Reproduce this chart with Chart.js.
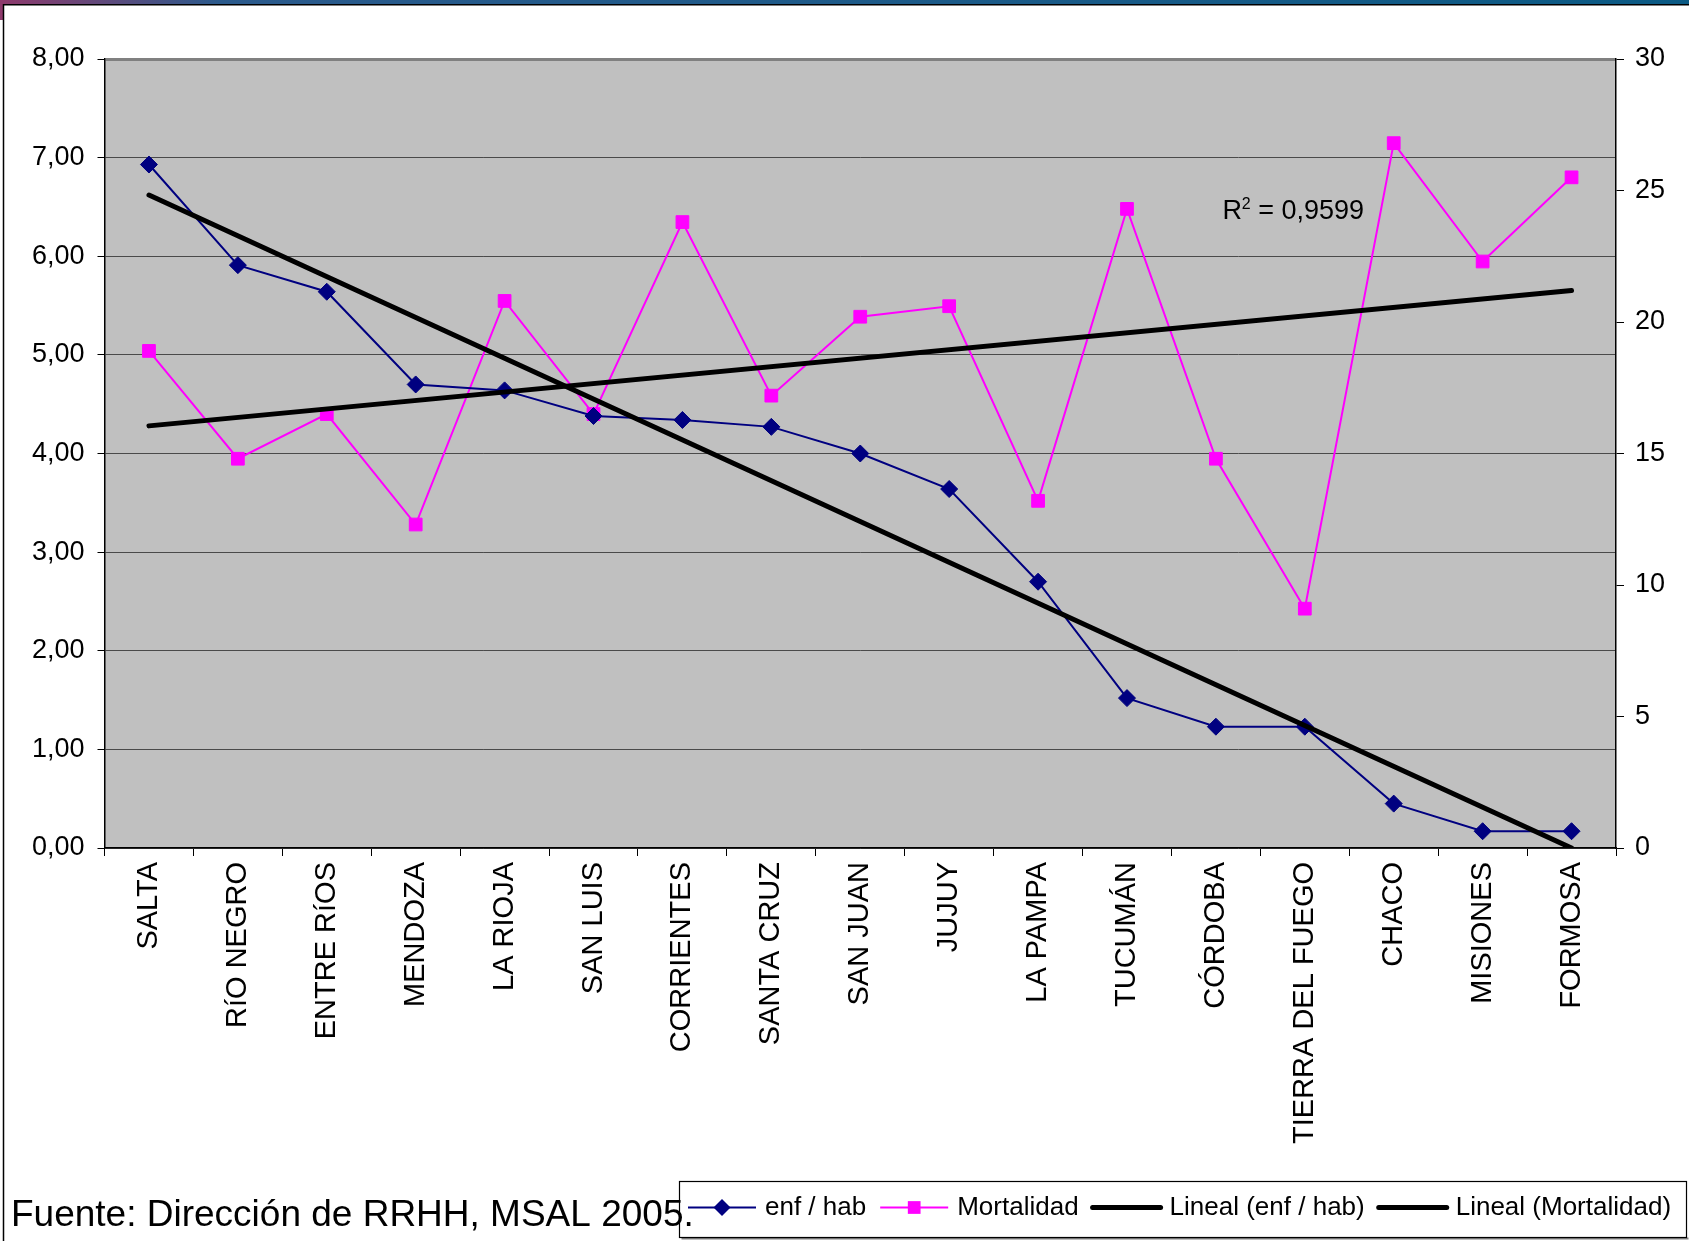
<!DOCTYPE html>
<html>
<head>
<meta charset="utf-8">
<title>Enfermeras por habitante y mortalidad</title>
<script src="https://cdn.jsdelivr.net/npm/chart.js@4.4.1/dist/chart.umd.min.js"></script>
<style>
  html, body { margin: 0; padding: 0; background: #fff; }
  canvas { display: block; }
</style>
</head>
<body>
<canvas id="grafico" width="1689" height="1241"></canvas>
<script>
// Provincias, ordenadas por enfermeras por habitante
const provincias = ['SALTA', 'RíO NEGRO', 'ENTRE RíOS', 'MENDOZA', 'LA RIOJA', 'SAN LUIS',
  'CORRIENTES', 'SANTA CRUZ', 'SAN JUAN', 'JUJUY', 'LA PAMPA', 'TUCUMÁN', 'CÓRDOBA',
  'TIERRA DEL FUEGO', 'CHACO', 'MISIONES', 'FORMOSA'];

// Eje izquierdo
const enfPorHab = [6.93, 5.91, 5.64, 4.70, 4.64, 4.38, 4.34, 4.27, 4.00, 3.64, 2.70,
  1.52, 1.23, 1.23, 0.45, 0.17, 0.17];

// Eje derecho
const mortalidad = [18.9, 14.8, 16.5, 12.3, 20.8, 16.5, 23.8, 17.2, 20.2, 20.6, 13.2,
  24.3, 14.8, 9.1, 26.8, 22.3, 25.5];

// Lineas de tendencia (solo extremos, el resto se une con spanGaps)
const tendEnf = [6.62, null, null, null, null, null, null, null, null, null, null,
  null, null, null, null, null, 0.0];
const tendMort = [16.05, null, null, null, null, null, null, null, null, null, null,
  null, null, null, null, null, 21.2];

const ticksIzq = [0, 1, 2, 3, 4, 5, 6, 7, 8];
const ticksDer = [0, 5, 10, 15, 20, 25, 30];

const r2Texto = ' = 0,9599';
const fuente = 'Fuente: Dirección de RRHH, MSAL 2005.';

const FAMILIA = "'Liberation Sans', Arial, sans-serif";
Chart.defaults.font.family = FAMILIA;
Chart.defaults.color = '#000';

function rombo(ctx, x, y, r) {
  ctx.beginPath();
  ctx.moveTo(x, y - r);
  ctx.lineTo(x + r, y);
  ctx.lineTo(x, y + r);
  ctx.lineTo(x - r, y);
  ctx.closePath();
  ctx.fill();
}

function cuadrado(ctx, x, y, r) {
  const s = r * Math.SQRT1_2;
  ctx.fillRect(x - s, y - s, 2 * s, 2 * s);
}

const marco = {
  id: 'marco',
  beforeDraw(chart) {
    const { ctx, chartArea: a } = chart;
    ctx.save();
    ctx.fillStyle = '#fff';
    ctx.fillRect(0, 0, chart.width, chart.height);
    ctx.fillStyle = '#c0c0c0';
    ctx.fillRect(a.left, a.top, a.right - a.left, a.bottom - a.top);
    ctx.restore();
  },
  afterDraw(chart) {
    const { ctx } = chart;
    const x = chart.scales.x, y1 = chart.scales.y1;
    ctx.save();

    // barra superior y borde del marco
    const grad = ctx.createLinearGradient(0, 0, chart.width, 0);
    grad.addColorStop(0, '#8e3a6c');
    grad.addColorStop(0.13, '#2b5a8c');
    grad.addColorStop(1, '#0b5a84');
    ctx.fillStyle = grad;
    ctx.fillRect(0, 0, chart.width, 4);
    ctx.fillStyle = '#8e3a6c';
    ctx.fillRect(0, 0, 3, 20);
    ctx.strokeStyle = '#000';
    ctx.lineWidth = 1.5;
    ctx.beginPath();
    ctx.moveTo(3.5, chart.height);
    ctx.lineTo(3.5, 4.75);
    ctx.lineTo(chart.width, 4.75);
    ctx.stroke();

    // R²
    ctx.fillStyle = '#000';
    ctx.textBaseline = 'alphabetic';
    ctx.font = '27px ' + FAMILIA;
    const wR = ctx.measureText('R').width;
    const wResto = ctx.measureText(r2Texto).width;
    ctx.font = '16px ' + FAMILIA;
    const w2 = ctx.measureText('2').width;
    const cx = x.getPixelForValue(12.87);
    const base = y1.getPixelForValue(24.3) + 10;
    const x0 = cx - (wR + w2 + wResto) / 2;
    ctx.font = '27px ' + FAMILIA;
    ctx.fillText('R', x0, base);
    ctx.fillText(r2Texto, x0 + wR + w2, base);
    ctx.font = '16px ' + FAMILIA;
    ctx.fillText('2', x0 + wR, base - 10);

    // leyenda
    const caja = { x: 679.5, y: 1181.5, w: 1007, h: 56 };
    ctx.fillStyle = '#fff';
    ctx.fillRect(caja.x, caja.y, caja.w, caja.h);
    ctx.fillStyle = '#808080';
    ctx.fillRect(caja.x + 2, caja.y + caja.h, caja.w, 2);
    ctx.strokeStyle = '#000';
    ctx.lineWidth = 1.2;
    ctx.strokeRect(caja.x, caja.y, caja.w, caja.h);

    ctx.font = '26px ' + FAMILIA;
    ctx.textBaseline = 'middle';
    let lx = 688;
    const my = caja.y + 26;
    chart.data.datasets.forEach(ds => {
      ctx.strokeStyle = ds.borderColor;
      ctx.lineWidth = ds.borderWidth;
      ctx.lineCap = ds.borderCapStyle || 'butt';
      ctx.beginPath();
      ctx.moveTo(lx, my);
      ctx.lineTo(lx + 68, my);
      ctx.stroke();
      ctx.fillStyle = ds.pointBackgroundColor;
      if (ds.pointStyle === 'rectRot') rombo(ctx, lx + 34, my, ds.pointRadius);
      if (ds.pointStyle === 'rect') cuadrado(ctx, lx + 34, my, ds.pointRadius);
      ctx.fillStyle = '#000';
      ctx.fillText(ds.label, lx + 77, my);
      lx += 77 + ctx.measureText(ds.label).width + 14;
    });

    // fuente
    ctx.font = '37px ' + FAMILIA;
    ctx.textBaseline = 'alphabetic';
    ctx.fillStyle = '#000';
    ctx.fillText(fuente, 11, 1226);

    ctx.restore();
  }
};

new Chart(document.getElementById('grafico'), {
  type: 'line',
  data: {
    labels: provincias,
    datasets: [
      {
        label: 'enf / hab',
        data: enfPorHab,
        yAxisID: 'y',
        borderColor: '#000080',
        backgroundColor: '#000080',
        pointBackgroundColor: '#000080',
        pointBorderColor: '#000080',
        borderWidth: 2,
        pointStyle: 'rectRot',
        pointRadius: 8.5,
        pointBorderWidth: 1,
        tension: 0,
        order: 2
      },
      {
        label: 'Mortalidad',
        data: mortalidad,
        yAxisID: 'y1',
        borderColor: '#ff00ff',
        backgroundColor: '#ff00ff',
        pointBackgroundColor: '#ff00ff',
        pointBorderColor: '#ff00ff',
        borderWidth: 2,
        pointStyle: 'rect',
        pointRadius: 9,
        pointBorderWidth: 1,
        tension: 0,
        order: 3
      },
      {
        label: 'Lineal (enf / hab)',
        data: tendEnf,
        yAxisID: 'y',
        borderColor: '#000',
        borderWidth: 5,
        borderCapStyle: 'round',
        pointRadius: 0,
        spanGaps: true,
        order: 0
      },
      {
        label: 'Lineal (Mortalidad)',
        data: tendMort,
        yAxisID: 'y1',
        borderColor: '#000',
        borderWidth: 5,
        borderCapStyle: 'round',
        pointRadius: 0,
        spanGaps: true,
        order: 1
      }
    ]
  },
  options: {
    responsive: false,
    animation: false,
    devicePixelRatio: 1,
    layout: { padding: { top: 59, left: 0, right: 0, bottom: 0 } },
    plugins: {
      legend: { display: false },
      tooltip: { enabled: false }
    },
    scales: {
      x: {
        offset: true,
        grid: { offset: true, drawOnChartArea: false, tickLength: 8, tickColor: '#000' },
        border: { color: '#000', width: 1.5 },
        ticks: {
          autoSkip: false,
          minRotation: 90,
          maxRotation: 90,
          padding: 6,
          color: '#000',
          font: { size: 29 }
        },
        afterFit(s) { s.height = 393; }
      },
      y: {
        position: 'left',
        min: 0,
        max: 8,
        afterBuildTicks(s) { s.ticks = ticksIzq.map(v => ({ value: v })); },
        grid: {
          color: c => (c.tick && c.tick.value === 8 ? '#808080' : '#4a4a4a'),
          lineWidth: c => (c.tick && c.tick.value === 8 ? 3 : 1),
          tickColor: '#000',
          tickWidth: 1,
          tickLength: 7
        },
        border: { color: '#000', width: 1.5 },
        ticks: {
          padding: 13,
          color: '#000',
          font: { size: 27 },
          callback: v => v.toFixed(2).replace('.', ',')
        },
        afterFit(s) { s.width = 104.5; }
      },
      y1: {
        position: 'right',
        min: 0,
        max: 30,
        afterBuildTicks(s) { s.ticks = ticksDer.map(v => ({ value: v })); },
        grid: { drawOnChartArea: false, tickColor: '#000', tickLength: 8 },
        border: { color: '#000', width: 1.5 },
        ticks: {
          padding: 11,
          color: '#000',
          font: { size: 27 },
          callback: v => String(v)
        },
        afterFit(s) { s.width = 73; }
      }
    }
  },
  plugins: [marco]
});
</script>
</body>
</html>
